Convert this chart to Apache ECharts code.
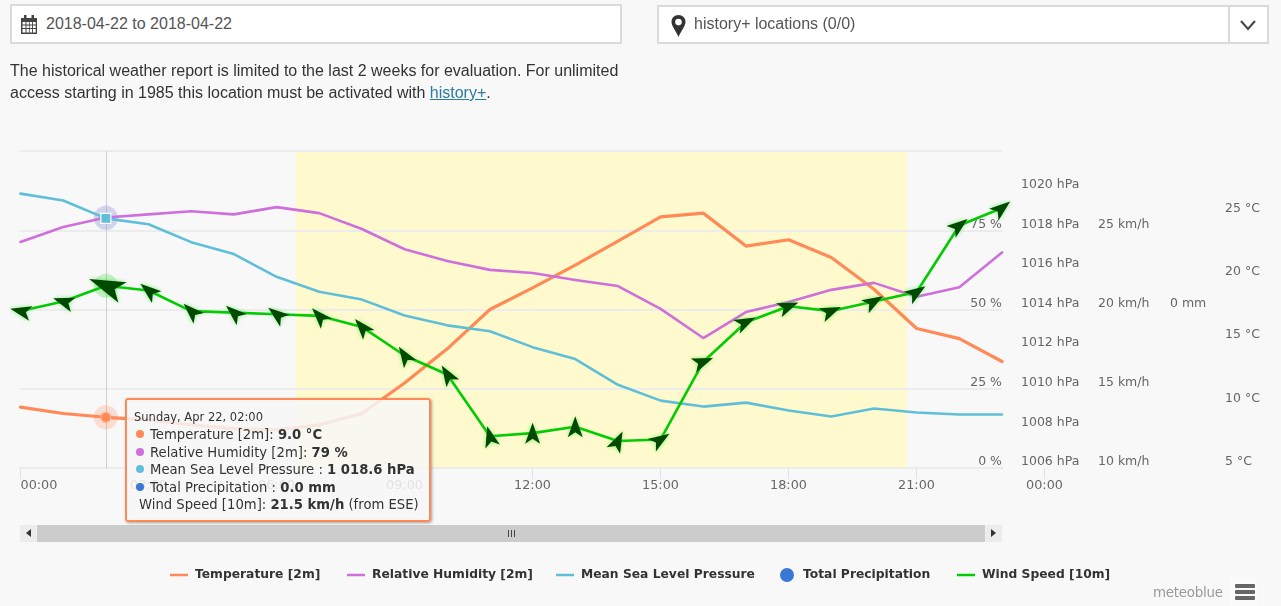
<!DOCTYPE html>
<html>
<head>
<meta charset="utf-8">
<title>History+ weather</title>
<script src="https://cdn.jsdelivr.net/npm/echarts@6/dist/echarts.min.js"></script>
<style>
html,body{margin:0;padding:0;width:1281px;height:606px;overflow:hidden;background:#f8f8f8;font-family:"Liberation Sans",Arial,sans-serif;color:#333}
#chart{position:absolute;left:0;top:0;width:1281px;height:606px}
.box{position:absolute;background:#fff;border:2px solid #dadada;box-sizing:border-box;font-size:16px;color:#555;line-height:35px}
.box svg{position:absolute}
#dateBox{left:10px;top:4px;width:612px;height:40px}
#dateBox span{position:absolute;left:34px;top:0}
#locBox{left:657px;top:5px;width:612px;height:39px}
#locBox span{position:absolute;left:35px;top:-1px}
#locBox i{position:absolute;left:569px;top:0;bottom:0;width:2px;background:#dadada}
#note{position:absolute;left:10px;top:60px;font-size:16px;line-height:22px;width:640px}
#note a{color:#2b7a9f;text-decoration:underline}
#sb{position:absolute;left:20px;top:525px;width:982px;height:17px;background:#f0f0f0}
#sb b{position:absolute;left:17px;right:17px;top:0;bottom:0;background:#cccccc}
#sb em{position:absolute;top:0;width:16px;height:17px;background:#ececec}
#sb u{position:absolute;top:4px;width:0;height:0;border-top:4px solid transparent;border-bottom:4px solid transparent}
#sb s{position:absolute;left:488px;top:5px;width:1px;height:7px;background:#444;box-shadow:3px 0 #444,6px 0 #444}
#brand{position:absolute;left:1153px;top:585px;font:13.4px "DejaVu Sans",sans-serif;color:#999;letter-spacing:-.25px}
#menu{position:absolute;left:1230px;top:579px;width:27px;height:27px;background:#fbfbfb}
#menu i{position:absolute;left:5px;width:20px;height:4px;border-radius:1px;background:#666}
</style>
</head>
<body>
<div id="chart"></div>
<div class="box" id="dateBox">
<svg style="left:8px;top:9px" width="18" height="19" viewBox="0 0 18 19"><path fill="#444" d="M1 3h16v16H1z"/><path fill="#fff" d="M2.500 7h3v2.500h-3zM6.500 7h2.400v2.500H6.500zM9.700 7h2.400v2.500H9.700zM13 7h2.700v2.500H13zM2.500 10.500h3V13h-3zM6.500 10.500h2.400V13H6.500zM9.700 10.500h2.400V13H9.700zM13 10.500h2.700V13H13zM2.500 14h3v3.500h-3zM6.500 14h2.400v3.500H6.500zM9.700 14h2.400v3.500H9.700zM13 14h2.700v3.500H13z"/><path fill="#444" d="M4 0h2.500v5H4zM11.500 0H14v5h-2.500z"/></svg>
<span>2018-04-22 to 2018-04-22</span></div>
<div class="box" id="locBox">
<svg style="left:12px;top:8px" width="15" height="22" viewBox="0 0 15 22"><path fill="#333" fill-rule="evenodd" d="M7.500 0C3.400 0 .5 3 .5 7c0 4 4.500 9 7 15 2.500-6 7-11 7-15 0-4-2.900-7-7-7zm0 3.800a3.300 3.300 0 1 1 0 6.600 3.300 3.300 0 0 1 0-6.600z"/></svg>
<span>history+ locations (0/0)</span><i></i>
<svg style="left:581px;top:13px" width="16" height="11" viewBox="0 0 16 11"><path fill="none" stroke="#444" stroke-width="2" d="M1 1l7 8 7-8"/></svg></div>
<div id="note">The historical weather report is limited to the last 2 weeks for evaluation. For unlimited access starting in 1985 this location must be activated with <a>history+</a>.</div>
<div id="sb"><b></b><em style="left:0"></em><em style="right:0"></em><u style="left:6px;border-right:5px solid #333"></u><u style="right:6px;border-left:5px solid #333"></u><s></s></div>
<div id="brand">meteoblue</div>
<div id="menu"><i style="top:5px"></i><i style="top:11px"></i><i style="top:17px"></i></div>
<script>
var hours = [0,1,2,3,4,5,6,7,8,9,10,11,12,13,14,15,16,17,18,19,20,21,22,23];
var temperature = [9.8,9.3,9.0,8.8,8.4,8.1,8.0,8.4,9.3,11.7,14.4,17.5,19.2,21.0,22.9,24.8,25.1,22.5,23.0,21.6,19.1,16.0,15.2,13.4];
var humidity = [71.3,76,79,80,81,80,82.3,80.4,75.4,69,65.3,62.5,61.5,59.3,57.4,50.2,41,49.2,52.4,56.2,58.4,54,57,68];
var pressure = [1019.85,1019.5,1018.6,1018.3,1017.4,1016.8,1015.65,1014.9,1014.5,1013.7,1013.2,1012.9,1012.1,1011.5,1010.2,1009.4,1009.1,1009.3,1008.9,1008.6,1009.0,1008.8,1008.7,1008.7];
var precipitation = [0,0,0,0,0,0,0,0,0,0,0,0,0,0,0,0,0,0,0,0,0,0,0,0];
var windSpeed = [19.9,20.5,21.5,21.2,19.9,19.8,19.7,19.6,18.9,17.1,15.9,12,12.2,12.6,11.7,11.8,16.7,19.2,20.2,19.9,20.5,21.1,25.3,26.4];
var windFrom = [103,108,112,129,134,132,128,137,139,147,148,165,180,180,206,237,249,244,248,247,240,236,232,231];
var daylight = [6.45,20.77];
var activeHour = 2;
var compass = ['N','NNE','NE','ENE','E','ESE','SE','SSE','S','SSW','SW','WSW','W','WNW','NW','NNW'];

var font = '"DejaVu Sans",sans-serif';
var names = ['Temperature [2m]','Relative Humidity [2m]','Mean Sea Level Pressure','Total Precipitation','Wind Speed [10m]'];
var colors = ['#ff8a57','#cf6fdc','#5fbfd9','#3a78d6','#00cc00'];
var lineIcon = 'path://M0,0L0,0ZM0,5.8h18v2.400h-18zM18,14L18,14Z';
var dotIcon = 'path://M0,0L0,0ZM2,7a7,7 0 1,0 14,0a7,7 0 1,0 -14,0ZM18,14L18,14Z';
var dart = 'path://M7.500,0L15,21L7.500,16L0,21Z';
function pts(v){return hours.map(function(h,i){return [h,v[i]];});}
function hhmm(h){return (h%24<10?'0':'')+(h%24)+':00';}
function thin(n){return String(n).replace(/^(\d)(\d{3})/,'$1 $2');}

function lineSeries(i,vals,yi,extra){
  return Object.assign({type:'line',name:names[i],data:pts(vals),xAxisIndex:0,yAxisIndex:yi,z:5+i,color:colors[i],
    showSymbol:false,symbol:'none',clip:false,silent:true,lineStyle:{color:colors[i],width:i===0?3.2:2.6,cap:'round',join:'round'}},extra||{});
}
function markerSeries(i,vals,yi,size,opacity,symbol,border){
  return {type:'scatter',data:[[activeHour,vals[activeHour]]],xAxisIndex:0,yAxisIndex:yi,z:border?20:4,symbol:symbol||'circle',symbolSize:size,clip:false,
    itemStyle:{color:colors[i],opacity:opacity,borderColor:border||'transparent',borderWidth:border?1.2:0}};
}
function rightAxis(min,max,interval,margin,suffix,hideMax,extra){
  return Object.assign({type:'value',gridIndex:0,position:'right',min:min,max:max,interval:interval,z:2,
    axisLine:{show:false},axisTick:{show:false},splitLine:{show:false},
    axisLabel:{show:true,margin:margin,color:'#666',fontFamily:font,fontSize:12.5,fontWeight:'normal',align:'left',verticalAlign:'bottom',lineHeight:12,
      formatter:function(v){return v===hideMax?'':v+suffix;}}},extra||{});
}

var series = [
  {type:'bar',name:names[3],data:pts(precipitation),xAxisIndex:0,yAxisIndex:3,barWidth:4,z:1,itemStyle:{color:colors[3]},silent:true,
   markArea:{silent:true,z:1,itemStyle:{color:'#fffacd',opacity:1},data:[[{xAxis:daylight[0]},{xAxis:daylight[1]}]]}},
  lineSeries(0,temperature,4),
  lineSeries(1,humidity,0),
  lineSeries(2,pressure,1),
  lineSeries(4,windSpeed,2,{showSymbol:true,showAllSymbol:true,z:9,
    data:hours.map(function(h,i){var active=h===activeHour;return {value:[h,windSpeed[i]],symbol:dart,
      symbolSize:active?[22,36]:[15,21],symbolRotate:-(windFrom[i]+180)};}),
    itemStyle:{color:'#004a00',shadowBlur:4,shadowColor:'rgba(40,230,40,0.6)',opacity:1},
    markLine:{silent:true,z:3,symbol:'none',label:{show:false},animation:false,lineStyle:{color:'#cfcfcf',width:1,type:'solid'},data:[{xAxis:activeHour}]}}),
  markerSeries(0,temperature,4,24,0.25),
  markerSeries(1,humidity,0,24,0.22),
  markerSeries(2,pressure,1,24,0.22),
  markerSeries(4,windSpeed,2,24,0.2),
  markerSeries(0,temperature,4,10,1,'circle','#ffb090'),
  markerSeries(2,pressure,1,10,1,'rect','#ffffff')
];

var option = {
  animation:false,
  backgroundColor:'transparent',
  textStyle:{fontFamily:font},
  grid:[
    {left:20.5,top:151,width:981.5,height:317,containLabel:false},
    {left:20.5,top:151,width:1024,height:317,containLabel:false}
  ],
  xAxis:[
    {type:'value',gridIndex:0,min:0,max:23,interval:1,z:1,axisLabel:{show:false},axisTick:{show:false},splitLine:{show:false},
     axisLine:{show:true,onZero:false,lineStyle:{color:'#d9e0ee',width:2}}},
    {type:'value',gridIndex:1,min:0,max:24,interval:3,z:1,splitLine:{show:false},axisLine:{show:false},
     axisTick:{show:true,length:11,lineStyle:{color:'#d9e0ee',width:1}},
     axisLabel:{show:true,margin:11,color:'#666',fontFamily:font,fontSize:12.8,alignMinLabel:'left',
       formatter:function(v){return hhmm(v);}}}
  ],
  yAxis:[
    rightAxis(0,100,25,0,' %',100,{splitLine:{show:true,lineStyle:{color:'#ececec',width:2}},
      axisLabel:{show:true,inside:true,margin:0,color:'#666',fontFamily:font,fontSize:12.5,align:'right',verticalAlign:'bottom',lineHeight:12,
        formatter:function(v){return v===100?'':v+' %';}}}),
    rightAxis(1006,1022,2,19,' hPa',1022),
    rightAxis(10,30,5,96,' km/h',30),
    rightAxis(-10,10,10,168,' mm',null,{axisLabel:{show:true,margin:168,color:'#666',fontFamily:font,fontSize:12.5,align:'left',verticalAlign:'bottom',lineHeight:12,
      formatter:function(v){return v===0?'0 mm':'';}}}),
    rightAxis(5,30,5,223,' °C',30),
    {type:'value',gridIndex:1,show:false,min:0,max:1}
  ],
  legend:names.map(function(n,i){
    return {left:[170,347,556,778,957][i],top:568,data:[{name:n,icon:i===3?dotIcon:lineIcon,itemStyle:{color:colors[i],shadowBlur:0,opacity:1}}],selectedMode:false,
      itemWidth:18,itemHeight:14,itemGap:0,padding:0,
      textStyle:{color:'#333',fontFamily:font,fontSize:12.3,fontWeight:'bold',padding:[0,0,0,2]}};
  }),
  tooltip:{
    show:true,trigger:'item',triggerOn:'none',alwaysShowContent:true,confine:false,transitionDuration:0,
    position:[125,398],
    backgroundColor:'rgba(247,247,247,0.85)',borderColor:'#ff8a57',borderWidth:2,borderRadius:3,padding:[8,8,6,8],
    extraCssText:'box-shadow:1px 1px 3px rgba(0,0,0,.35);width:286px;box-sizing:content-box;',
    textStyle:{fontFamily:font,fontSize:13.2,color:'#333'},
    formatter:function(){
      var i=activeHour;
      var dot=function(c){return '<span style="display:inline-block;width:8px;height:8px;border-radius:50%;background:'+c+';margin:0 6px 0 1px;vertical-align:1px"></span>';};
      var row=function(c,t,v,rest){return '<div style="line-height:17.5px;white-space:nowrap">'+(c?dot(c):'<span style="margin-left:4px"></span>')+t+' <b>'+v+'</b>'+(rest||'')+'</div>';};
      return '<div style="font-size:11.5px;line-height:18px;white-space:nowrap;margin-left:-1px">Sunday, Apr 22, '+hhmm(hours[i])+'</div>'
        +row(colors[0],names[0]+':',temperature[i].toFixed(1)+' °C')
        +row(colors[1],names[1]+':',humidity[i]+' %')
        +row(colors[2],names[2]+' :',thin(pressure[i].toFixed(1))+' hPa')
        +row(colors[3],names[3]+' :',precipitation[i].toFixed(1)+' mm')
        +row(null,'Wind Speed [10m]:',windSpeed[i].toFixed(1)+' km/h',' (from '+compass[Math.round(windFrom[i]/22.5)%16]+')');
    }
  },
  series:series
};
var chart = echarts.init(document.getElementById('chart'),null,{renderer:'canvas',width:1281,height:606});
chart.setOption(option);
chart.dispatchAction({type:'showTip',seriesIndex:5,dataIndex:0});
</script>
</body>
</html>
